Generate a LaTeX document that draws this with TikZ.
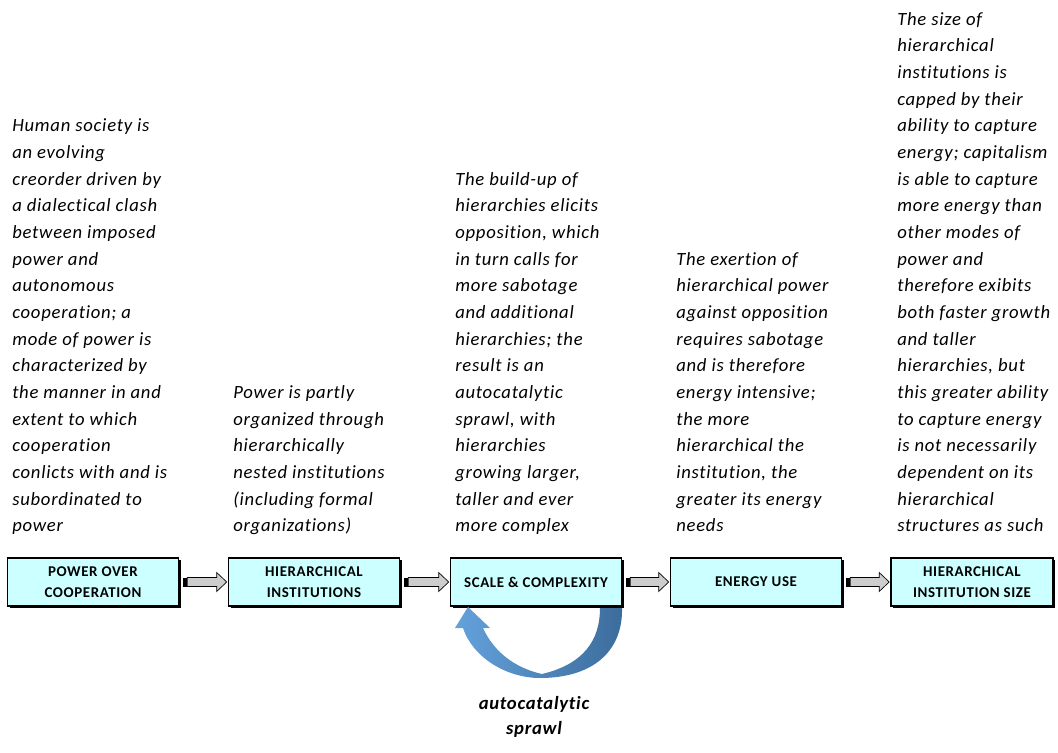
\documentclass[tikz,border=0pt]{standalone}
\usepackage{fontspec}
\setmainfont{Carlito}[Ligatures=NoCommon]
\newfontfamily\widefont{Carlito}[Ligatures=NoCommon, LetterSpace=4]
\usetikzlibrary{calc}
\usetikzlibrary{shadows}

\definecolor{boxfill}{RGB}{204,255,255}
\definecolor{arrowgray}{RGB}{205,205,205}
\definecolor{sprawllight}{RGB}{100,162,220}
\definecolor{sprawldark}{RGB}{60,108,156}

\tikzset{
  stagebox/.style={draw=black, line width=1.2pt, fill=boxfill, minimum width=128.25pt, minimum height=36pt, align=center, inner sep=0.75pt, font=\widefont\fontsize{11.2}{15.8}\selectfont\bfseries, drop shadow={shadow xshift=1.6pt, shadow yshift=-1.6pt, opacity=1, fill=black}},
  note/.style={anchor=south west, align=left, inner sep=0pt, text depth=0pt, font=\widefont\fontsize{14}{20}\selectfont\itshape},
}

% block arrow between two boxes
\newcommand{\blockarrow}[2]{%
  \filldraw[draw=black, fill=arrowgray, line width=0.5pt] ($(#1.east)+(8,-4.5)$) -- ($(#2.west)+(-11,-4.5)$) -- ($(#2.west)+(-11,-9.5)$) -- ($(#2.west)+(-1,0)$) -- ($(#2.west)+(-11,9.5)$) -- ($(#2.west)+(-11,4.5)$) -- ($(#1.east)+(8,4.5)$) -- cycle;
  \fill[black] ($(#1.east)+(4,-4.5)$) rectangle ($(#1.east)+(8,4.5)$);
}

\begin{document}
\begin{tikzpicture}[x=0.75pt,y=0.75pt,yscale=-1,xscale=1]
\useasboundingbox (0,0) rectangle (1058,753);

%Boxes
\node [stagebox] (power) at (93,582) {POWER OVER\\COOPERATION};
\node [stagebox] (inst) at (314,582) {HIERARCHICAL\\INSTITUTIONS};
\node [stagebox] (scale) at (536,582) {SCALE \& COMPLEXITY};
\node [stagebox] (energy) at (756,582) {ENERGY USE};
\node [stagebox, minimum width=121.5pt] (size) at (972,582) {HIERARCHICAL\\INSTITUTION SIZE};

%Arrows
\blockarrow{power}{inst}
\blockarrow{inst}{scale}
\blockarrow{scale}{energy}
\blockarrow{energy}{size}

%Curve Arrow (autocatalytic loop)
\shade [left color=sprawllight, right color=sprawldark] (622,608) .. controls (623,652) and (592,678) .. (540,678) .. controls (505,678) and (472,656) .. (463,628) -- (455,628) -- (468,607) -- (490,628) -- (483,628) .. controls (494,652) and (515,668) .. (542,674) .. controls (584,664) and (600,640) .. (600,608) -- cycle;

% Text Node
\node [note] (powertxt) at (12,532) {Human society is\\an evolving\\creorder driven by\\a dialectical clash\\between imposed\\power and\\autonomous\\cooperation; a\\mode of power is\\characterized by\\the manner in and\\extent to which\\cooperation\\conlicts with and is\\subordinated to\\power};
% Text Node
\node [note] (insttxt) at (233,532) {Power is partly\\organized through\\hierarchically\\nested institutions\\(including formal\\organizations)};
% Text Node
\node [note] (scaletxt) at (455,532) {The build-up of\\hierarchies elicits\\opposition, which\\in turn calls for\\more sabotage\\and additional\\hierarchies; the\\result is an\\autocatalytic\\sprawl, with\\hierarchies\\growing larger,\\taller and ever\\more complex};
% Text Node
\node [note] (energytxt) at (676,532) {The exertion of\\hierarchical power\\against opposition\\requires sabotage\\and is therefore\\energy intensive;\\the more\\hierarchical the\\institution, the\\greater its energy\\needs};
% Text Node
\node [note] (sizetxt) at (897,532) {The size of\\hierarchical\\institutions is\\capped by their\\ability to capture\\energy; capitalism\\is able to capture\\more energy than\\other modes of\\power and\\therefore exibits\\both faster growth\\and taller\\hierarchies, but\\this greater ability\\to capture energy\\is not necessarily\\dependent on its\\hierarchical\\structures as such};
% Text Node
\node [align=center, inner sep=0.75pt, font=\widefont\fontsize{14}{19}\selectfont\bfseries\itshape] (sprawl) at (534,717) {autocatalytic\\sprawl};

\end{tikzpicture}
\end{document}
